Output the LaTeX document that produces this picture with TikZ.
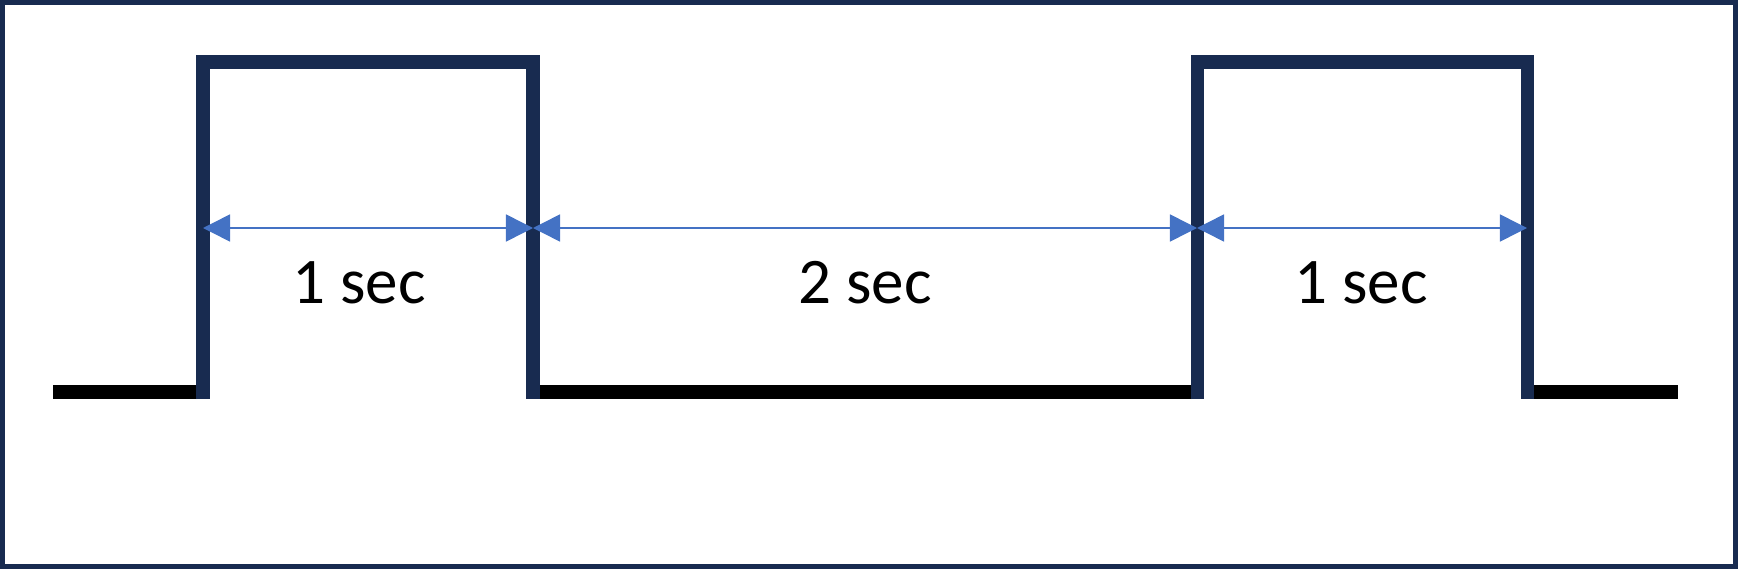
\documentclass[tikz,border=0pt]{standalone}
\usepackage{fontspec}
\setmainfont{Carlito}
\usepackage{tikz}
\usetikzlibrary{arrows.meta}
\definecolor{pulsenavy}{RGB}{24,43,80}
\definecolor{spanblue}{RGB}{68,114,196}

\begin{document}
\begin{tikzpicture}[x=0.01cm, y=0.01cm, every node/.style={font=\fontsize{18.5}{22}\selectfont},
    high/.style={pulsenavy, line width=0.13cm, line join=miter},
    low/.style={black, line width=0.14cm},
    span/.style={{Triangle[length=0.27cm, width=0.27cm]}-{Triangle[length=0.27cm, width=0.27cm]}, spanblue, line width=0.015cm}]
    \useasboundingbox (0,0) rectangle (1738,569);
    \draw[pulsenavy, line width=0.05cm] (2.5,2.5) rectangle (1735.5,566.5);
    % edges of the two pulses, at arrow height
    \coordinate (e1) at (203,341);
    \coordinate (e2) at (533,341);
    \coordinate (e3) at (1197,341);
    \coordinate (e4) at (1527,341);
    \draw[low] (53,177) -- (203,177) (533,177) -- (1197,177) (1527,177) -- (1678,177);
    \draw[high] (203,170) -- (203,507) -- (533,507) -- (533,170);
    \draw[high] (1197,170) -- (1197,507) -- (1527,507) -- (1527,170);
    \draw[span] (e1) -- (e2);
    \draw[span] (e2) -- (e3);
    \draw[span] (e3) -- (e4);
    \node[anchor=base] (t1) at (359,266) {1 sec};
    \node[anchor=base] (t2) at (865,266) {2 sec};
    \node[anchor=base] (t3) at (1361,266) {1 sec};
  \end{tikzpicture}
\end{document}
